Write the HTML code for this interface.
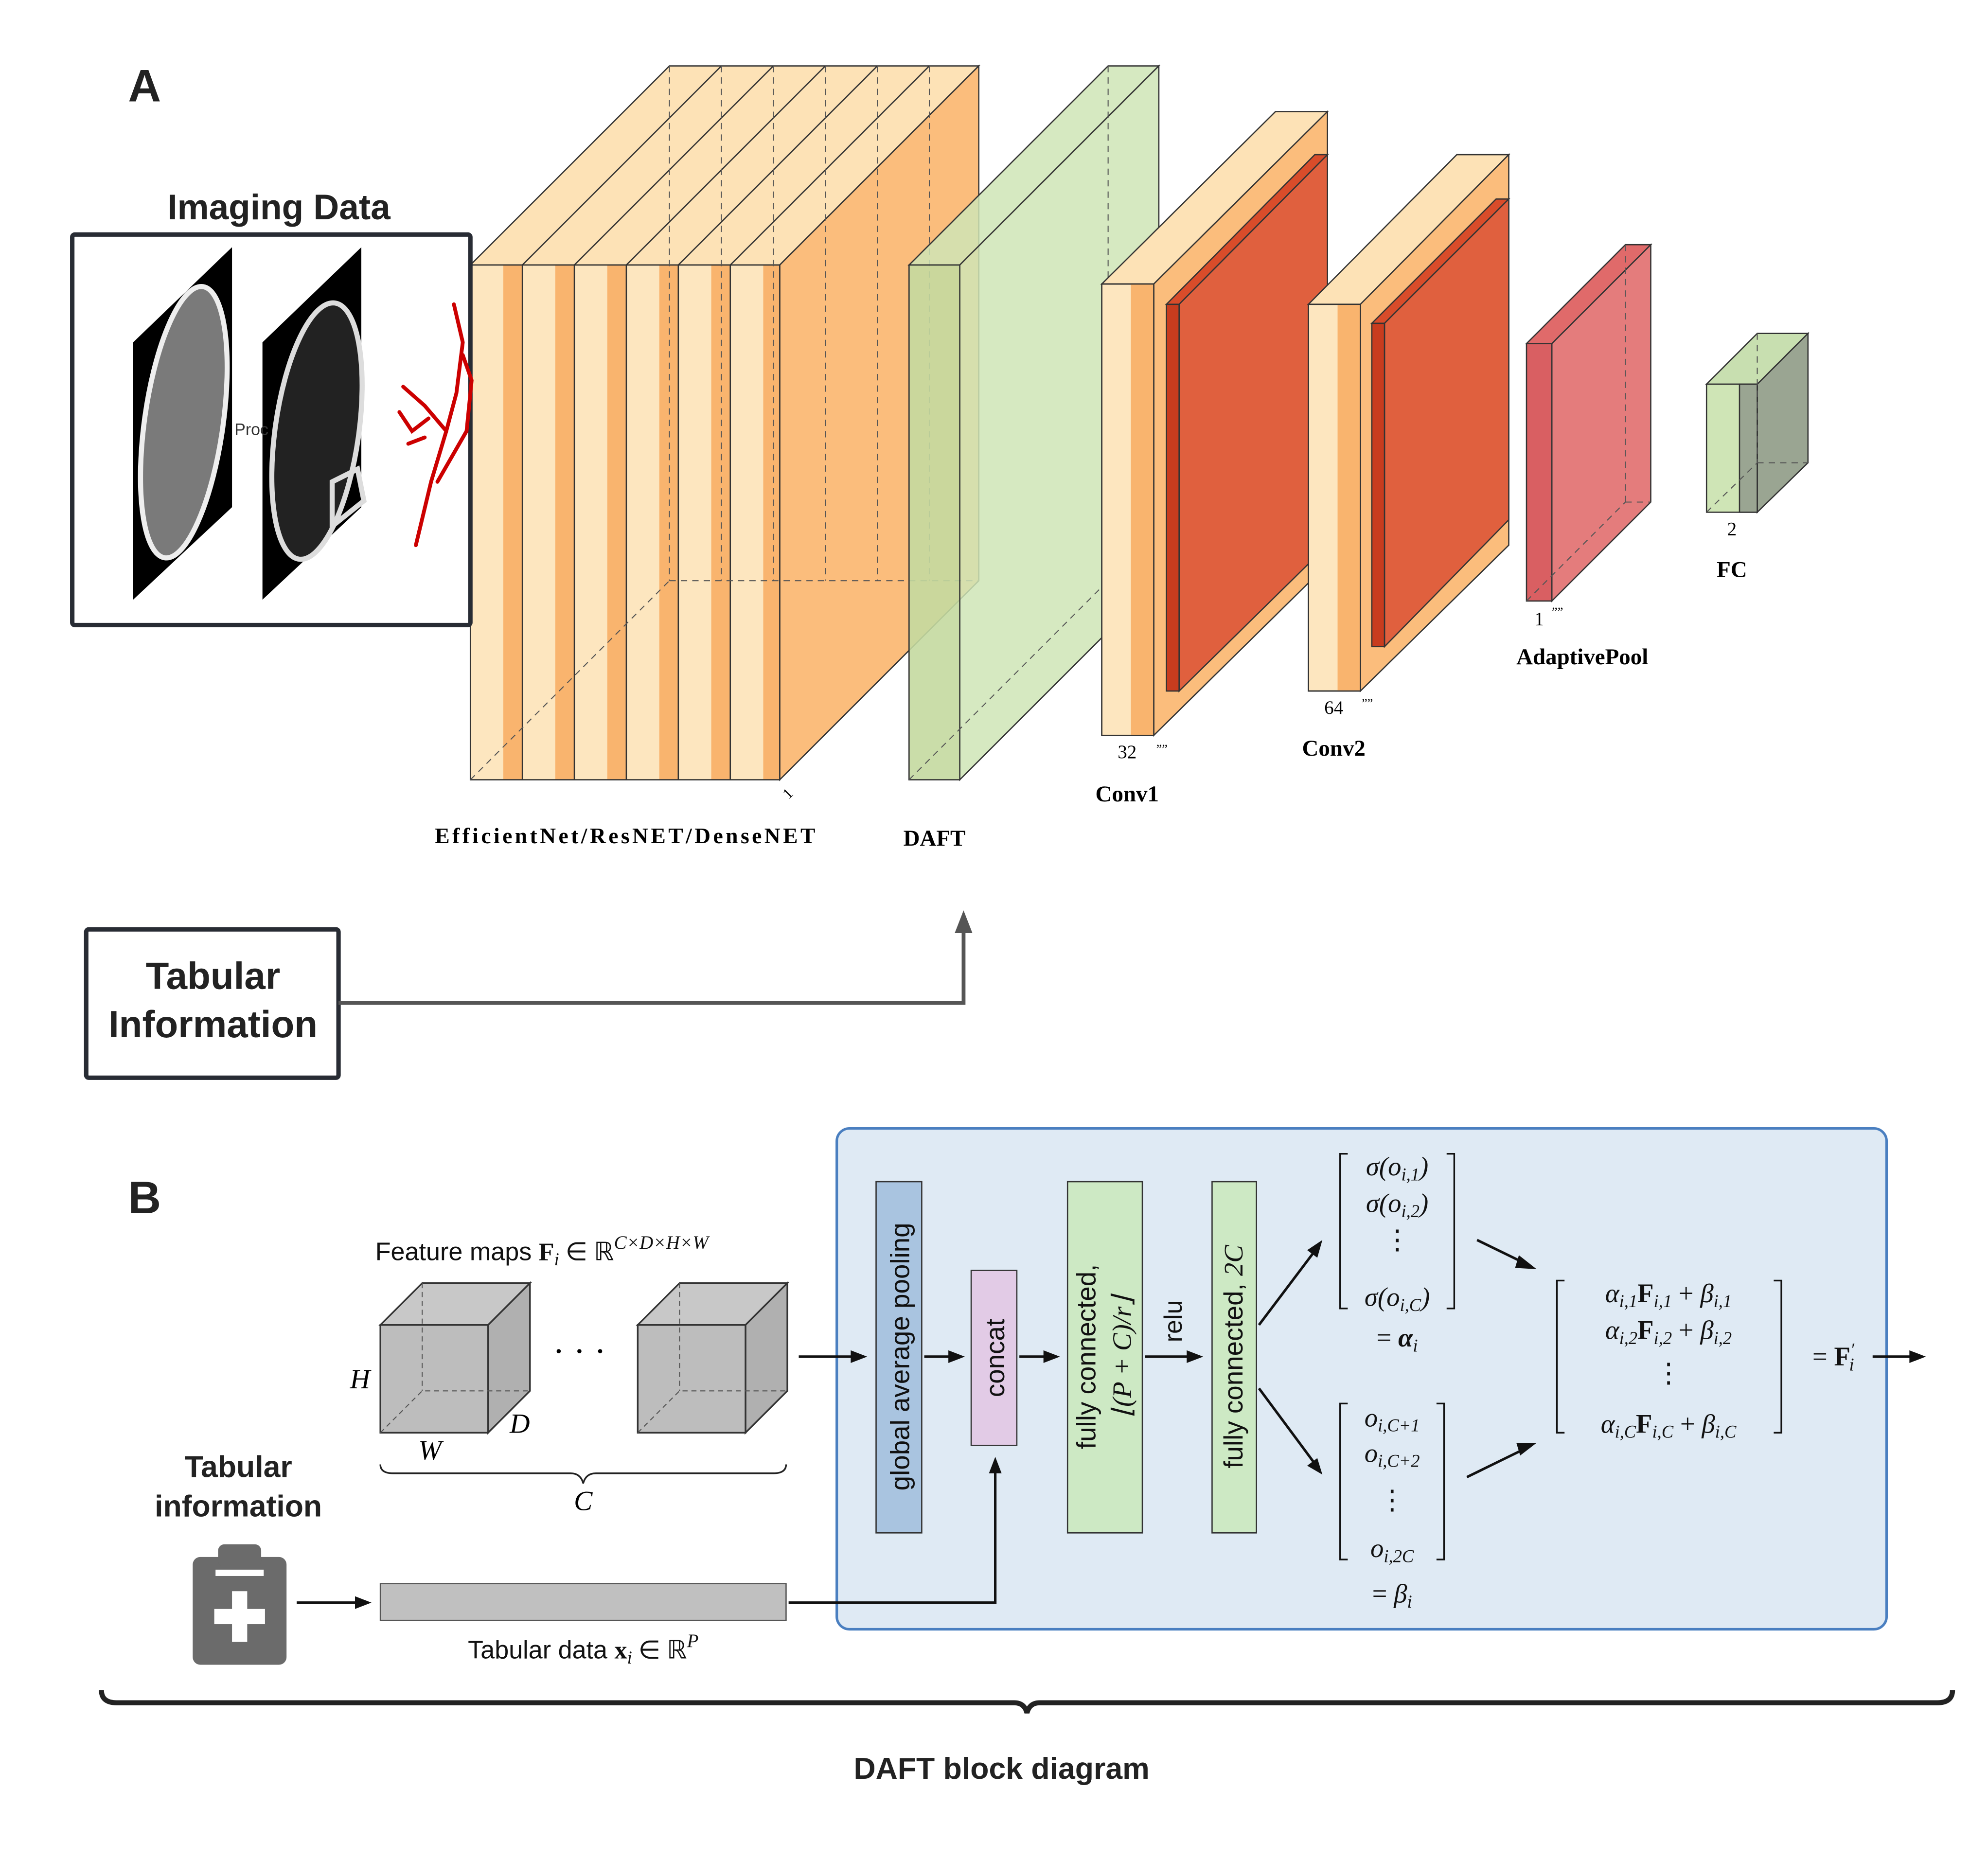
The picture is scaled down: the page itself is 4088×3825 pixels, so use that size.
<!DOCTYPE html>
<html><head><meta charset="utf-8"><style>
html,body{margin:0;padding:0;background:#fff}
svg{display:block}
.s{font-family:"Liberation Sans",sans-serif}
.r{font-family:"Liberation Serif",serif}
</style></head><body>
<svg width="4088" height="3825" viewBox="0 0 1568 1467" preserveAspectRatio="none" xmlns="http://www.w3.org/2000/svg">
<rect width="1568" height="1467" fill="#fff"/>
<text x="101" y="80" class="s" font-size="36" font-weight="bold" fill="#222">A</text>
<text x="220" y="173" class="s" font-size="28" font-weight="bold" fill="#222" text-anchor="middle">Imaging Data</text>

<g stroke="#333" stroke-width="1">
<polygon points="371,209 528,52 772,52 615,209" fill="#fde2b6"/>
<polygon points="615,209 772,52 772,458 615,615" fill="#fbbd7c"/>
</g>
<g>
<rect x="371" y="209" width="244" height="406" fill="#fde6bf"/>
<rect x="397" y="209" width="15" height="406" fill="#f9b46e"/>
<rect x="438" y="209" width="15" height="406" fill="#f9b46e"/>
<rect x="479" y="209" width="15" height="406" fill="#f9b46e"/>
<rect x="520" y="209" width="15" height="406" fill="#f9b46e"/>
<rect x="561" y="209" width="15" height="406" fill="#f9b46e"/>
<rect x="602" y="209" width="13" height="406" fill="#f9b46e"/>
<g stroke="#333" stroke-width="1" fill="none">
<rect x="371" y="209" width="244" height="406"/>
<line x1="412" y1="209" x2="412" y2="615"/><line x1="453" y1="209" x2="453" y2="615"/><line x1="494" y1="209" x2="494" y2="615"/><line x1="535" y1="209" x2="535" y2="615"/><line x1="576" y1="209" x2="576" y2="615"/>
<line x1="412" y1="209" x2="569" y2="52"/><line x1="453" y1="209" x2="610" y2="52"/><line x1="494" y1="209" x2="651" y2="52"/><line x1="535" y1="209" x2="692" y2="52"/><line x1="576" y1="209" x2="733" y2="52"/>
</g>
<g stroke="#555" stroke-width="0.8" stroke-dasharray="5,4" fill="none">
<line x1="371" y1="615" x2="528" y2="458"/><line x1="528" y1="458" x2="772" y2="458"/><line x1="528" y1="52" x2="528" y2="458"/>
<line x1="569" y1="52" x2="569" y2="458"/><line x1="610" y1="52" x2="610" y2="458"/><line x1="651" y1="52" x2="651" y2="458"/><line x1="692" y1="52" x2="692" y2="458"/><line x1="733" y1="52" x2="733" y2="458"/>
</g>
</g>
<text x="620" y="630" class="r" font-size="12" transform="rotate(-45 622 628)">1</text>

<rect x="57" y="185" width="314" height="308" fill="#fff" stroke="#282c34" stroke-width="3.5" rx="2"/>
<polygon points="105,270 183,195 183,400 105,473" fill="#000"/>
<ellipse cx="145" cy="333" rx="31" ry="108" fill="#7a7a7a" stroke="#eee" stroke-width="4" transform="rotate(8 145 333)"/>
<polygon points="207,270 285,195 285,400 207,473" fill="#000"/>
<ellipse cx="250" cy="340" rx="33" ry="102" fill="#222" stroke="#ddd" stroke-width="4" transform="rotate(8 250 340)"/>
<path d="M262,380 l20,-10 l5,25 l-25,20 z" fill="none" stroke="#ddd" stroke-width="4"/>
<text x="185" y="343" class="s" font-size="13" fill="#333">Proc</text>
<g stroke="#c00" stroke-width="3" fill="none" stroke-linecap="round">
<path d="M328,430 L340,380 L352,340 L360,310 L365,270 L358,240"/>
<path d="M352,340 L335,320 L318,305"/>
<path d="M345,380 L368,340 L372,300 L365,280"/>
<path d="M338,330 L325,340 L315,325"/>
<path d="M322,350 L335,345"/>
</g>

<g stroke="#333" stroke-width="1">
<polygon points="717,209 874,52 914,52 757,209" fill="#cfe5b6" fill-opacity="0.85"/>
<polygon points="757,209 914,52 914,458 757,615" fill="#cfe5b6" fill-opacity="0.85"/>
<rect x="717" y="209" width="40" height="406" fill="#c4d9a0" fill-opacity="0.9"/>
</g>
<g stroke="#555" stroke-width="0.8" stroke-dasharray="5,4" fill="none"><line x1="717" y1="615" x2="874" y2="458"/><line x1="874" y1="52" x2="874" y2="458"/><line x1="874" y1="458" x2="914" y2="458"/></g>

<g stroke="#333" stroke-width="1">
<polygon points="869,224 1006,88 1047,88 910,224" fill="#fde2b6"/>
<polygon points="910,224 1047,88 1047,445 910,580" fill="#fbbd7c"/>
<rect x="869" y="224" width="41" height="356" fill="#fde6bf"/>
<rect x="892" y="224" width="18" height="356" fill="#f9b46e" stroke="none"/>
<rect x="869" y="224" width="41" height="356" fill="none"/>
<polygon points="920,240 1037,122 1047,122 930,240" fill="#d94c2a"/>
<polygon points="930,240 1047,122 1047,430 930,545" fill="#e0603e"/>
<rect x="920" y="240" width="10" height="305" fill="#c83c1e"/>
</g>
<text x="889" y="598" class="r" font-size="15" text-anchor="middle">32</text>
<text x="912" y="594" class="r" font-size="10">””</text>
<text x="889" y="632" class="r" font-size="18" font-weight="bold" text-anchor="middle">Conv1</text>

<g stroke="#333" stroke-width="1">
<polygon points="1032,240 1149,122 1190,122 1073,240" fill="#fde2b6"/>
<polygon points="1073,240 1190,122 1190,430 1073,545" fill="#fbbd7c"/>
<rect x="1032" y="240" width="41" height="305" fill="#fde6bf"/>
<rect x="1055" y="240" width="18" height="305" fill="#f9b46e" stroke="none"/>
<rect x="1032" y="240" width="41" height="305" fill="none"/>
<polygon points="1082,255 1180,157 1190,157 1092,255" fill="#d94c2a"/>
<polygon points="1092,255 1190,157 1190,410 1092,510" fill="#e0603e"/>
<rect x="1082" y="255" width="10" height="255" fill="#c83c1e"/>
</g>
<text x="1052" y="563" class="r" font-size="15" text-anchor="middle">64</text>
<text x="1074" y="558" class="r" font-size="10">””</text>
<text x="1052" y="596" class="r" font-size="18" font-weight="bold" text-anchor="middle">Conv2</text>

<g stroke="#333" stroke-width="1">
<polygon points="1204,271 1282,193 1302,193 1224,271" fill="#e06a6a"/>
<polygon points="1224,271 1302,193 1302,396 1224,474" fill="#e47c7c"/>
<rect x="1204" y="271" width="20" height="203" fill="#d95f62"/>
</g>
<g stroke="#555" stroke-width="0.8" stroke-dasharray="5,4" fill="none"><line x1="1204" y1="474" x2="1282" y2="396"/><line x1="1282" y1="193" x2="1282" y2="396"/><line x1="1282" y1="396" x2="1302" y2="396"/></g>
<text x="1214" y="493" class="r" font-size="15" text-anchor="middle">1</text>
<text x="1224" y="486" class="r" font-size="10">””</text>
<text x="1248" y="524" class="r" font-size="18" font-weight="bold" text-anchor="middle">AdaptivePool</text>

<g stroke="#333" stroke-width="1">
<polygon points="1346,303 1386,263 1426,263 1386,303" fill="#c8dfb0"/>
<polygon points="1386,303 1426,263 1426,365 1386,404" fill="#9aa592"/>
<rect x="1346" y="303" width="40" height="101" fill="#cfe5b6"/>
<rect x="1372" y="303" width="14" height="101" fill="#9aa592"/>
</g>
<g stroke="#555" stroke-width="0.8" stroke-dasharray="5,4" fill="none"><line x1="1346" y1="404" x2="1386" y2="365"/><line x1="1386" y1="263" x2="1386" y2="365"/><line x1="1386" y1="365" x2="1426" y2="365"/></g>
<text x="1366" y="422" class="r" font-size="15" text-anchor="middle">2</text>
<text x="1366" y="455" class="r" font-size="18" font-weight="bold" text-anchor="middle">FC</text>

<text x="493" y="665" class="r" font-size="17.5" font-weight="bold" text-anchor="middle" textLength="300">EfficientNet/ResNET/DenseNET</text>
<text x="737" y="667" class="r" font-size="18" font-weight="bold" text-anchor="middle">DAFT</text>

<rect x="68" y="733" width="199" height="117" fill="#fff" stroke="#282c34" stroke-width="3.5" rx="2"/>
<text x="168" y="780" class="s" font-size="30" font-weight="bold" fill="#222" text-anchor="middle">Tabular</text>
<text x="168" y="818" class="s" font-size="30" font-weight="bold" fill="#222" text-anchor="middle">Information</text>
<path d="M267,791 H760 V730" fill="none" stroke="#555" stroke-width="3"/>
<polygon points="753,736 760,718 767,736" fill="#555"/>

<text x="101" y="957" class="s" font-size="36" font-weight="bold" fill="#222">B</text>
<rect x="660" y="890" width="828" height="395" rx="10" fill="#dfeaf4" stroke="#4a7fc0" stroke-width="2"/>

<text x="296" y="994" class="s" font-size="20" fill="#111">Feature maps <tspan class="r" font-weight="bold">F</tspan><tspan class="r" font-style="italic" font-size="14" dy="4">i</tspan><tspan class="r" dy="-4"> ∈ ℝ</tspan><tspan class="r" font-style="italic" font-size="15" dy="-9">C×D×H×W</tspan></text>

<g stroke="#333" stroke-width="1.3">
<polygon points="300,1045 333,1012 418,1012 385,1045" fill="#c8c8c8"/>
<polygon points="385,1045 418,1012 418,1097 385,1130" fill="#b0b0b0"/>
<rect x="300" y="1045" width="85" height="85" fill="#bdbdbd"/>
<polygon points="503,1045 536,1012 621,1012 588,1045" fill="#c8c8c8"/>
<polygon points="588,1045 621,1012 621,1097 588,1130" fill="#b0b0b0"/>
<rect x="503" y="1045" width="85" height="85" fill="#bdbdbd"/>
</g>
<g stroke="#555" stroke-width="0.8" stroke-dasharray="4,3" fill="none">
<path d="M300,1130 L333,1097 H418 M333,1012 V1097"/>
<path d="M503,1130 L536,1097 H621 M536,1012 V1097"/>
</g>
<text x="457" y="1075" class="r" font-size="28" text-anchor="middle">· · ·</text>
<text x="276" y="1095" class="r" font-size="22" font-style="italic">H</text>
<text x="330" y="1151" class="r" font-size="22" font-style="italic">W</text>
<text x="402" y="1130" class="r" font-size="22" font-style="italic">D</text>
<path d="M300,1155 Q300,1162 310,1162 H450 Q458,1162 460,1170 Q462,1162 470,1162 H610 Q620,1162 620,1155" fill="none" stroke="#222" stroke-width="1.3"/>
<text x="460" y="1191" class="r" font-size="22" font-style="italic" text-anchor="middle">C</text>

<text x="188" y="1165" class="s" font-size="24" font-weight="bold" fill="#222" text-anchor="middle">Tabular</text>
<text x="188" y="1196" class="s" font-size="24" font-weight="bold" fill="#222" text-anchor="middle">information</text>
<rect x="152" y="1228" width="74" height="85" rx="6" fill="#6b6b6b"/>
<rect x="172" y="1218" width="34" height="18" rx="5" fill="#6b6b6b"/>
<rect x="170" y="1238" width="38" height="5" fill="#fff"/>
<rect x="183" y="1255" width="12" height="40" fill="#fff"/>
<rect x="169" y="1269" width="40" height="12" fill="#fff"/>

<line x1="234" y1="1264" x2="282" y2="1264" stroke="#111" stroke-width="2"/>
<polygon points="280,1259 293,1264 280,1269" fill="#111"/>
<rect x="300" y="1249" width="320" height="29" fill="#c0c0c0" stroke="#555" stroke-width="1"/>
<text x="460" y="1308" class="s" font-size="20" fill="#111" text-anchor="middle">Tabular data <tspan class="r" font-weight="bold">x</tspan><tspan class="r" font-style="italic" font-size="14" dy="4">i</tspan><tspan class="r" dy="-4"> ∈ ℝ</tspan><tspan class="r" font-style="italic" font-size="15" dy="-9">P</tspan></text>

<path d="M622,1264 H785 V1160" fill="none" stroke="#111" stroke-width="2"/>
<polygon points="780,1162 785,1149 790,1162" fill="#111"/>

<g stroke="#111" stroke-width="2">
<line x1="630" y1="1070" x2="673" y2="1070"/><line x1="729" y1="1070" x2="750" y2="1070"/><line x1="804" y1="1070" x2="825" y2="1070"/><line x1="903" y1="1070" x2="938" y2="1070"/>
<line x1="993" y1="1045" x2="1036" y2="988"/><line x1="993" y1="1095" x2="1036" y2="1153"/>
<line x1="1165" y1="978" x2="1202" y2="996"/><line x1="1157" y1="1165" x2="1202" y2="1143"/>
<line x1="1477" y1="1070" x2="1508" y2="1070"/>
</g>
<g fill="#111">
<polygon points="671,1065 684,1070 671,1075"/><polygon points="748,1065 761,1070 748,1075"/><polygon points="823,1065 836,1070 823,1075"/><polygon points="936,1065 949,1070 936,1075"/>
<polygon points="1031,986 1043,978 1039,992"/><polygon points="1039,1150 1043,1163 1031,1156"/>
<polygon points="1198,990 1212,1001 1195,1000"/><polygon points="1196,1138 1212,1138 1199,1148"/>
<polygon points="1506,1065 1519,1070 1506,1075"/>
</g>

<rect x="691" y="932" width="36" height="277" fill="#a9c4e0" stroke="#333" stroke-width="1"/>
<text transform="translate(717 1070) rotate(-90)" class="s" font-size="21" text-anchor="middle" fill="#111">global average pooling</text>
<rect x="766" y="1002" width="36" height="138" fill="#e2cbe6" stroke="#333" stroke-width="1"/>
<text transform="translate(792 1071) rotate(-90)" class="s" font-size="21" text-anchor="middle" fill="#111">concat</text>
<rect x="842" y="932" width="59" height="277" fill="#cde9c4" stroke="#333" stroke-width="1"/>
<text transform="translate(864 1070) rotate(-90)" class="s" font-size="21" text-anchor="middle" fill="#111">fully connected,</text>
<text transform="translate(892 1070) rotate(-90)" class="r" font-size="21" font-style="italic" text-anchor="middle" fill="#111">⌊(P + C)/r⌋</text>
<text transform="translate(932 1042) rotate(-90)" class="s" font-size="20" text-anchor="middle" fill="#111">relu</text>
<rect x="956" y="932" width="35" height="277" fill="#cde9c4" stroke="#333" stroke-width="1"/>
<text transform="translate(980 1070) rotate(-90)" class="s" font-size="21" text-anchor="middle" fill="#111">fully connected, <tspan class="r" font-style="italic">2C</tspan></text>

<g stroke="#111" stroke-width="1.3" fill="none">
<path d="M1063,910 H1057 V1032 H1063"/><path d="M1141,910 H1147 V1032 H1141"/>
<path d="M1063,1107 H1057 V1230 H1063"/><path d="M1133,1107 H1139 V1230 H1133"/>
<path d="M1234,1010 H1228 V1130 H1234"/><path d="M1399,1010 H1405 V1130 H1399"/>
</g>
<g class="r" font-size="21" fill="#111" text-anchor="middle" font-style="italic">
<text x="1102" y="927">σ(o<tspan font-size="14" dy="4">i,1</tspan><tspan dy="-4">)</tspan></text>
<text x="1102" y="956">σ(o<tspan font-size="14" dy="4">i,2</tspan><tspan dy="-4">)</tspan></text>
<text x="1102" y="985" font-style="normal">⋮</text>
<text x="1102" y="1030">σ(o<tspan font-size="14" dy="4">i,C</tspan><tspan dy="-4">)</tspan></text>
<text x="1102" y="1062"><tspan font-style="normal">= </tspan><tspan font-weight="bold">α</tspan><tspan font-size="14" dy="4">i</tspan></text>
<text x="1098" y="1125">o<tspan font-size="14" dy="4">i,C+1</tspan></text>
<text x="1098" y="1153">o<tspan font-size="14" dy="4">i,C+2</tspan></text>
<text x="1098" y="1190" font-style="normal">⋮</text>
<text x="1098" y="1228">o<tspan font-size="14" dy="4">i,2C</tspan></text>
<text x="1098" y="1264"><tspan font-style="normal">= </tspan>β<tspan font-size="14" dy="4">i</tspan></text>
<text x="1316" y="1027">α<tspan font-size="14" dy="4">i,1</tspan><tspan dy="-4" font-style="normal" font-weight="bold">F</tspan><tspan font-size="14" dy="4">i,1</tspan><tspan dy="-4" font-style="normal"> + </tspan>β<tspan font-size="14" dy="4">i,1</tspan></text>
<text x="1316" y="1056">α<tspan font-size="14" dy="4">i,2</tspan><tspan dy="-4" font-style="normal" font-weight="bold">F</tspan><tspan font-size="14" dy="4">i,2</tspan><tspan dy="-4" font-style="normal"> + </tspan>β<tspan font-size="14" dy="4">i,2</tspan></text>
<text x="1316" y="1090" font-style="normal">⋮</text>
<text x="1316" y="1130">α<tspan font-size="14" dy="4">i,C</tspan><tspan dy="-4" font-style="normal" font-weight="bold">F</tspan><tspan font-size="14" dy="4">i,C</tspan><tspan dy="-4" font-style="normal"> + </tspan>β<tspan font-size="14" dy="4">i,C</tspan></text>
<text x="1446" y="1077" font-style="normal">= <tspan font-weight="bold">F</tspan><tspan font-size="14" font-style="italic" dy="-8">′</tspan><tspan font-size="14" font-style="italic" dx="-4" dy="12">i</tspan></text>
</g>

<path d="M80,1333 Q80,1343 92,1343 H800 Q808,1343 810,1351 Q812,1343 820,1343 H1528 Q1540,1343 1540,1333" fill="none" stroke="#222" stroke-width="4"/>
<text x="790" y="1403" class="s" font-size="24" font-weight="bold" fill="#222" text-anchor="middle">DAFT block diagram</text>
</svg>
</body></html>
